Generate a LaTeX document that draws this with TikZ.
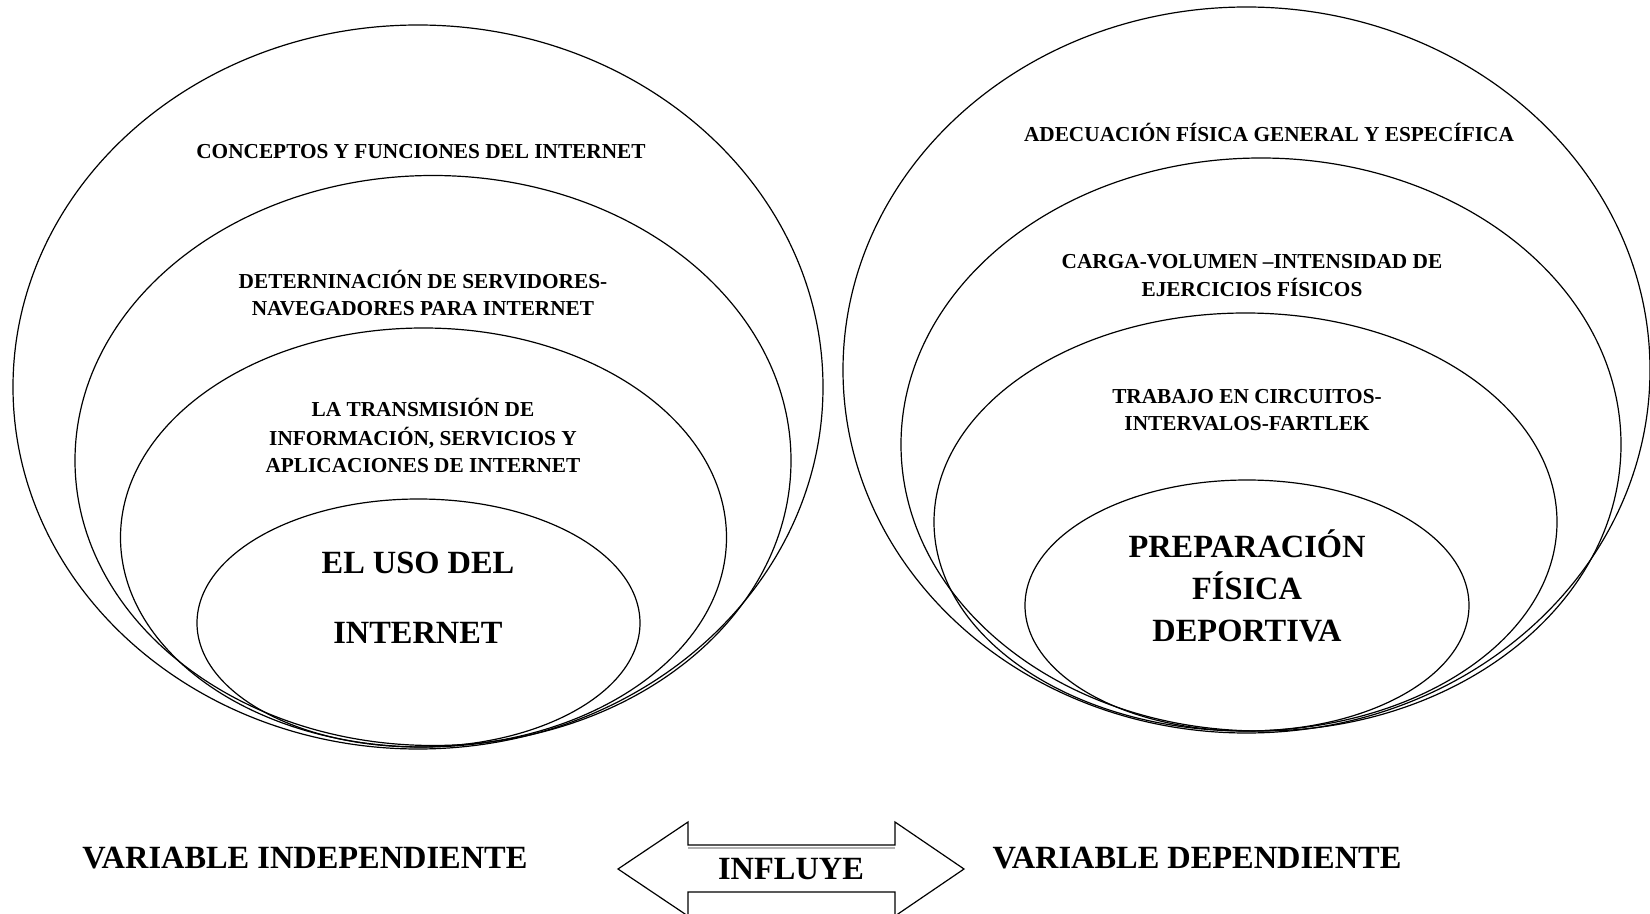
\documentclass[tikz,border=0pt]{standalone}
\usepackage{fontspec}
\setmainfont{Liberation Serif}
\begin{document}
\begin{tikzpicture}[x=0.5pt,y=-0.5pt,
  ring/.style={draw=black,line width=0.6pt},
  small/.style={font=\fontsize{10.65pt}{13.75pt}\selectfont\bfseries,anchor=base,inner sep=0pt},
  big/.style={font=\fontsize{16.2pt}{20pt}\selectfont\bfseries,anchor=base,inner sep=0pt},
  arrowshape/.style={draw=black,line width=0.6pt,line join=miter}]
\useasboundingbox (0,0) rectangle (1650,914);
% left ellipses
\draw[ring] (418,387) ellipse [x radius=202.5pt, y radius=181pt];
\draw[ring] (433,460.5) ellipse [x radius=179pt, y radius=142.5pt];
\draw[ring] (423.5,537.5) ellipse [x radius=151.5pt, y radius=104.75pt];
\draw[ring] (418.5,623) ellipse [x radius=110.75pt, y radius=62pt];
% right ellipses
\draw[ring] (1246.5,370) ellipse [x radius=201.75pt, y radius=181.5pt];
\draw[ring] (1261,444.5) ellipse [x radius=180pt, y radius=143.25pt];
\draw[ring] (1245.5,522) ellipse [x radius=155.75pt, y radius=104.5pt];
\draw[ring] (1247,605.5) ellipse [x radius=111pt, y radius=62.75pt];
% left texts
\node[small] (l1) at (421,158.5) {CONCEPTOS Y FUNCIONES DEL INTERNET};
\node[small] (l2a) at (423,289) {DETERNINACIÓN DE SERVIDORES-};
\node[small] (l2b) at (423,316) {NAVEGADORES PARA INTERNET};
\node[small] (l3a) at (423,417) {LA TRANSMISIÓN DE};
\node[small] (l3b) at (423,446) {INFORMACIÓN, SERVICIOS Y};
\node[small] (l3c) at (423,473) {APLICACIONES DE INTERNET};
\node[big] (l4a) at (418,573.5) {EL USO DEL};
\node[big] (l4b) at (418,643) {INTERNET};
% right texts
\node[small] (r1) at (1269,141.7) {ADECUACIÓN FÍSICA GENERAL Y ESPECÍFICA};
\node[small] (r2a) at (1252,269) {CARGA-VOLUMEN –INTENSIDAD DE};
\node[small] (r2b) at (1252,297) {EJERCICIOS FÍSICOS};
\node[small] (r3a) at (1247,404) {TRABAJO EN CIRCUITOS-};
\node[small] (r3b) at (1247,431) {INTERVALOS-FARTLEK};
\node[big] (r4a) at (1247,557.5) {PREPARACIÓN};
\node[big] (r4b) at (1247,599.5) {FÍSICA};
\node[big] (r4c) at (1247,641.5) {DEPORTIVA};
% bottom
\node[big] (vi) at (305,868.5) {VARIABLE INDEPENDIENTE};
\node[big] (vd) at (1197,868.5) {VARIABLE DEPENDIENTE};
\draw[arrowshape] (618,869) -- (688,822) -- (688,845) -- (895,845) -- (895,822)
  -- (964,869) -- (895,916) -- (895,892) -- (688,892) -- (688,916) -- cycle;
\draw[gray!60,line width=1pt] (688,847.5) -- (895,847.5);
\node[big] (inf) at (791,879.5) {INFLUYE};
\end{tikzpicture}
\end{document}
